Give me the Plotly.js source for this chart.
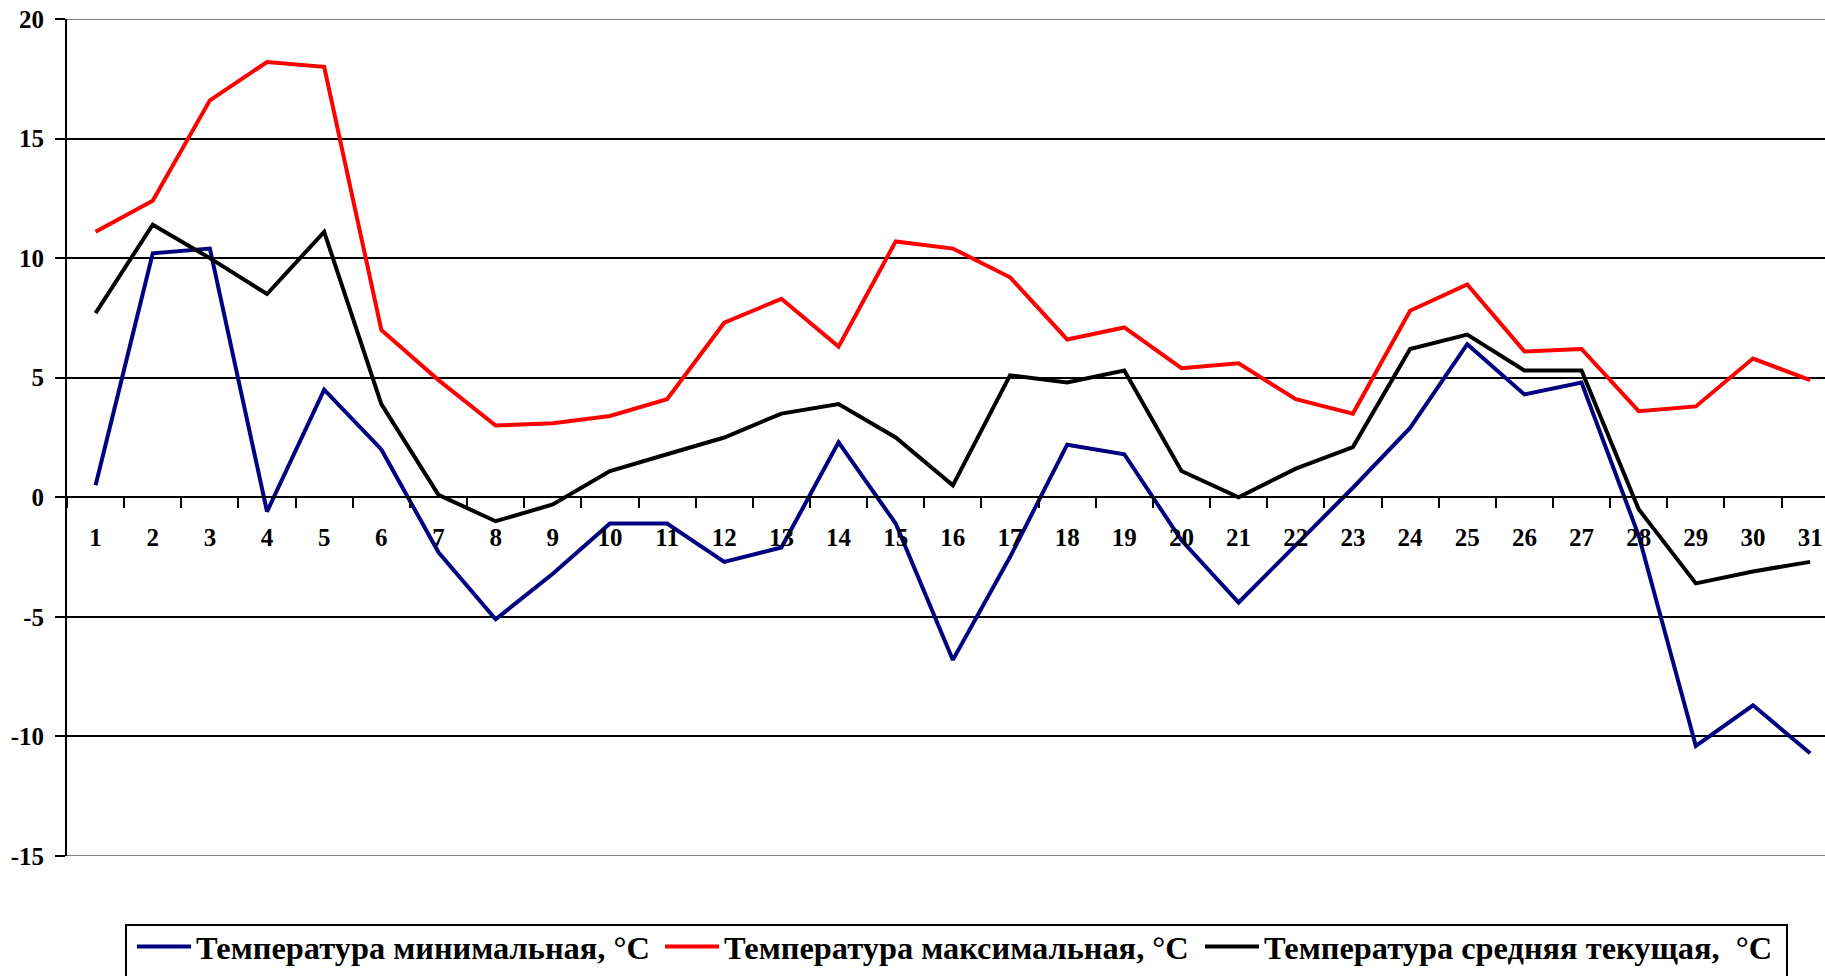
<!DOCTYPE html>
<html>
<head>
<meta charset="utf-8">
<script src="https://cdn.plot.ly/plotly-3.0.1.min.js"></script>
<style>html,body{margin:0;padding:0;background:#fff;}#chart{width:1825px;height:976px;}</style>
</head>
<body>
<div id="chart"></div>
<script>
const days = ["1","2","3","4","5","6","7","8","9","10","11","12","13","14","15","16","17","18","19","20","21","22","23","24","25","26","27","28","29","30","31"];
const tMin = [0.5, 10.2, 10.4, -0.6, 4.5, 2.0, -2.3, -5.1, -3.2, -1.1, -1.1, -2.7, -2.1, 2.3, -1.1, -6.8, -2.5, 2.2, 1.8, -1.8, -4.4, -2.0, 0.4, 2.9, 6.4, 4.3, 4.8, -1.6, -10.4, -8.7, -10.7];
const tMax = [11.1, 12.4, 16.6, 18.2, 18.0, 7.0, 4.9, 3.0, 3.1, 3.4, 4.1, 7.3, 8.3, 6.3, 10.7, 10.4, 9.2, 6.6, 7.1, 5.4, 5.6, 4.1, 3.5, 7.8, 8.9, 6.1, 6.2, 3.6, 3.8, 5.8, 4.9];
const tAvg = [7.7, 11.4, 10.0, 8.5, 11.1, 3.9, 0.1, -1.0, -0.3, 1.1, 1.8, 2.5, 3.5, 3.9, 2.5, 0.5, 5.1, 4.8, 5.3, 1.1, 0.0, 1.2, 2.1, 6.2, 6.8, 5.3, 5.3, -0.5, -3.6, -3.1, -2.7];
const yTickVals = [-15, -10, -5, 0, 5, 10, 15, 20];
const yTickText = ["-15", "-10", "-5", "0", "5", "10", "15", "20"];
const seriesNames = ["Температура минимальная, °C", "Температура максимальная, °C", "Температура средняя текущая,  °C"];
const seriesColors = ["#000080", "#FF0000", "#000000"];

const FONT = "Liberation Serif, Times New Roman, serif";
const W = 1825, H = 976;
const M = {l: 67, r: 0, t: 19, b: 120, autoexpand: false};
const plotW = W - M.l - M.r, plotH = H - M.t - M.b;
const px2x = p => (p - M.l) / plotW;
const py2y = p => (H - M.b - p) / plotH;

const legendIds = ["legend", "legend2", "legend3"];
const legendLeftPx = [132, 660, 1200];

const allSeries = [tMin, tMax, tAvg];
const traces = allSeries.map((vals, i) => ({
  type: "scatter",
  mode: "lines",
  x: days,
  y: vals,
  name: seriesNames[i],
  legend: legendIds[i],
  line: {color: seriesColors[i], width: 4},
  hoverinfo: "x+y"
}));

const legendFont = {family: FONT, size: 32.4, color: "#000", weight: "bold"};

const layout = {
  width: W,
  height: H,
  margin: M,
  paper_bgcolor: "#fff",
  plot_bgcolor: "#fff",
  showlegend: true,
  font: {family: FONT, color: "#000"},
  xaxis: {
    type: "category",
    range: [-0.5, 30.26],
    anchor: "free",
    position: 15 / 35,
    showline: true,
    linecolor: "#000",
    linewidth: 2,
    ticks: "outside",
    tickson: "boundaries",
    ticklen: 10,
    tickwidth: 2,
    tickcolor: "#000",
    showgrid: false,
    zeroline: false,
    ticklabelstandoff: 18,
    tickfont: {family: FONT, size: 25, color: "#000", weight: "bold"}
  },
  yaxis: {
    range: [-15, 20],
    tickmode: "array",
    tickvals: yTickVals,
    ticktext: yTickText,
    showgrid: true,
    gridcolor: "#000",
    gridwidth: 2,
    zeroline: false,
    showline: true,
    linecolor: "#000",
    linewidth: 2,
    ticks: "outside",
    ticklen: 10,
    tickwidth: 2,
    tickcolor: "#000",
    ticklabelstandoff: 6,
    tickfont: {family: FONT, size: 25, color: "#000", weight: "bold"}
  },
  shapes: [
    {type: "line", xref: "paper", yref: "y", x0: 0, x1: 1, y0: 20, y1: 20, line: {color: "#808080", width: 2}, layer: "below"},
    {type: "line", xref: "paper", yref: "y", x0: 0, x1: 1, y0: -15, y1: -15, line: {color: "#808080", width: 2}, layer: "below"},
    {type: "rect", xref: "paper", yref: "paper", x0: px2x(126), x1: px2x(1787), y0: py2y(925), y1: py2y(1000), line: {color: "#000", width: 2}, fillcolor: "#fff", layer: "above"}
  ]
};

legendIds.forEach((id, i) => {
  layout[id] = {
    orientation: "h",
    x: px2x(legendLeftPx[i]),
    xanchor: "left",
    y: py2y(919),
    yanchor: "top",
    bgcolor: "rgba(0,0,0,0)",
    borderwidth: 0,
    itemwidth: 54,
    font: legendFont
  };
});

Plotly.newPlot("chart", traces, layout, {displayModeBar: false, staticPlot: true});
</script>
</body>
</html>
